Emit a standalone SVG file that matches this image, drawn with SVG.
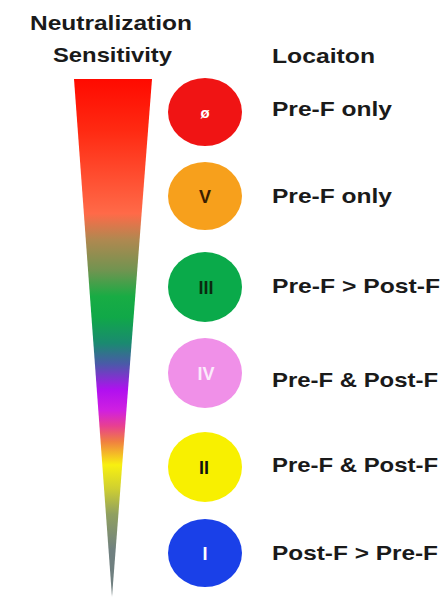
<svg xmlns="http://www.w3.org/2000/svg" width="446" height="599" viewBox="0 0 446 599">
  <defs>
    <linearGradient id="sens" x1="0" y1="79" x2="0" y2="597" gradientUnits="userSpaceOnUse">
      <stop offset="0" stop-color="#ff0a00"/>
      <stop offset="0.10" stop-color="#ff2a12"/>
      <stop offset="0.26" stop-color="#ff6a48"/>
      <stop offset="0.31" stop-color="#b08850"/>
      <stop offset="0.37" stop-color="#709450"/>
      <stop offset="0.42" stop-color="#18ac44"/>
      <stop offset="0.46" stop-color="#10a848"/>
      <stop offset="0.51" stop-color="#1a8a70"/>
      <stop offset="0.55" stop-color="#4a5aa8"/>
      <stop offset="0.60" stop-color="#b010f0"/>
      <stop offset="0.64" stop-color="#d020e0"/>
      <stop offset="0.67" stop-color="#e84090"/>
      <stop offset="0.70" stop-color="#f08040"/>
      <stop offset="0.745" stop-color="#f8f010"/>
      <stop offset="0.79" stop-color="#d0d030"/>
      <stop offset="0.84" stop-color="#90a060"/>
      <stop offset="0.91" stop-color="#708080"/>
      <stop offset="1" stop-color="#708080"/>
    </linearGradient>
  </defs>
  <style>
    text { font-family: "Liberation Sans", Arial, sans-serif; font-weight: bold; }
    .hdr { font-size: 21px; fill: #1a1a1a; }
    .lbl { font-size: 21px; fill: #1a1a1a; }
    .in { font-size: 18px; text-anchor: middle; }
  </style>
  <rect width="446" height="599" fill="#ffffff"/>
  <g id="header">
    <text class="hdr" x="30" y="30" textLength="162" lengthAdjust="spacingAndGlyphs">Neutralization</text>
    <text class="hdr" x="53" y="62" textLength="119" lengthAdjust="spacingAndGlyphs">Sensitivity</text>
    <text class="hdr" x="272" y="63" textLength="103" lengthAdjust="spacingAndGlyphs">Locaiton</text>
  </g>
  <g id="wedge">
    <polygon points="74,79 152,79 112,597" fill="url(#sens)"/>
  </g>
  <g id="row1">
    <ellipse cx="205" cy="112" rx="37" ry="34" fill="#f01414"/>
    <text class="in" x="205" y="118" fill="#ffffff" style="font-size:15px">ø</text>
    <text class="lbl" x="272" y="116" textLength="120" lengthAdjust="spacingAndGlyphs">Pre-F only</text>
  </g>
  <g id="row2">
    <ellipse cx="205" cy="196" rx="37" ry="34" fill="#f7a01c"/>
    <text class="in" x="205" y="203" fill="#3a1e00">V</text>
    <text class="lbl" x="272" y="203" textLength="120" lengthAdjust="spacingAndGlyphs">Pre-F only</text>
  </g>
  <g id="row3">
    <ellipse cx="205" cy="287" rx="37" ry="35" fill="#0aaa4a"/>
    <text class="in" x="206" y="294" fill="#0a2a10">III</text>
    <text class="lbl" x="272" y="293" textLength="168" lengthAdjust="spacingAndGlyphs">Pre-F &gt; Post-F</text>
  </g>
  <g id="row4">
    <ellipse cx="205" cy="373" rx="37" ry="35" fill="#f090e8"/>
    <text class="in" x="206" y="380" fill="#fbeafb">IV</text>
    <text class="lbl" x="272" y="387" textLength="166" lengthAdjust="spacingAndGlyphs">Pre-F &amp; Post-F</text>
  </g>
  <g id="row5">
    <ellipse cx="205" cy="467" rx="37" ry="35" fill="#f8f000"/>
    <text class="in" x="204" y="474" fill="#111111">II</text>
    <text class="lbl" x="272" y="472" textLength="166" lengthAdjust="spacingAndGlyphs">Pre-F &amp; Post-F</text>
  </g>
  <g id="row6">
    <ellipse cx="205" cy="553" rx="37" ry="34" fill="#1a40e8"/>
    <text class="in" x="205" y="560" fill="#ffffff">I</text>
    <text class="lbl" x="272" y="560" textLength="166" lengthAdjust="spacingAndGlyphs">Post-F &gt; Pre-F</text>
  </g>
  <g id="connectors"/>
</svg>
